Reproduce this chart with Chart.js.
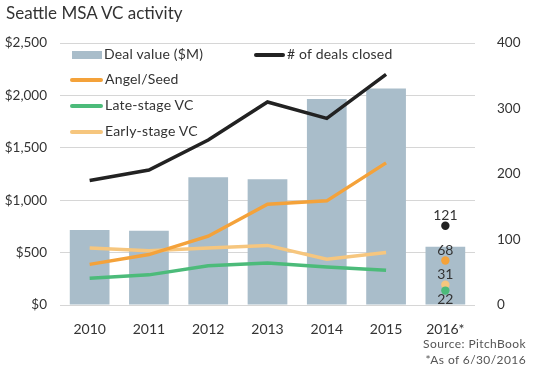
<!DOCTYPE html>
<html>
<head>
<meta charset="utf-8">
<script src="https://cdn.jsdelivr.net/npm/chart.js@4/dist/chart.umd.min.js"></script>
<style>
  body { margin: 0; background: #fff; }
  #wrap { position: relative; width: 542px; height: 372px; font-family: Lato, "Open Sans", sans-serif; color: #333; }
  #title { position: absolute; left: 6px; top: 2px; font-size: 17px; color: #333; }
  .leg { position: absolute; font-size: 14px; color: #333; line-height: 16px; white-space: nowrap; letter-spacing: 0.2px; }
  .leg i { display: inline-block; vertical-align: middle; margin-right: 2px; }
  .foot { position: absolute; right: 16px; font-size: 12px; color: #555; text-align: right; letter-spacing: 0.4px; }
</style>
</head>
<body>
<div id="wrap">
  <canvas id="myChart" width="542" height="372"></canvas>
  <div id="title">Seattle MSA VC activity</div>
  <div class="leg" style="left:72px;top:46px"><i style="width:30px;height:8px;background:#a9bdca"></i>Deal value ($M)</div>
  <div class="leg" style="left:254px;top:46px"><i style="width:31px;height:4px;border-radius:2px;background:#222"></i># of deals closed</div>
  <div class="leg" style="left:70px;top:71px"><i style="width:33px;height:4px;border-radius:2px;background:#f4a23a"></i>Angel/Seed</div>
  <div class="leg" style="left:70px;top:97px"><i style="width:33px;height:4px;border-radius:2px;background:#4cbb7a"></i>Late-stage VC</div>
  <div class="leg" style="left:70px;top:123px"><i style="width:33px;height:4px;border-radius:2px;background:#f6c67e"></i>Early-stage VC</div>
  <div class="foot" style="top:336px">Source: PitchBook</div>
  <div class="foot" style="top:352px">*As of 6/30/2016</div>
</div>
<script>
const years = ['2010', '2011', '2012', '2013', '2014', '2015', '2016*'];
const dealValue = [715, 709, 1218, 1199, 1966, 2067, 556];
const dealsClosed = [190, 206, 252, 310, 285, 352, 121];
const angelSeed = [62, 77, 105, 154, 159, 217, 68];
const lateStage = [41, 46, 60, 64, 58, 53, 22];
const earlyStage = [87, 83, 87, 91, 70, 80, 31];

const lastIdx = years.length - 1;

// line up to 2015, only a dot for 2016
function lineSet(label, data, color) {
    return {
        type: 'line',
        label: label,
        data: data,
        yAxisID: 'y1',
        borderColor: color,
        backgroundColor: color,
        borderWidth: 3.5,
        tension: 0,
        pointRadius: data.map((v, i) => i === lastIdx ? 4.2 : 0),
        pointBorderWidth: 0,
        pointHoverRadius: 0,
        segment: {
            borderColor: ctx => ctx.p1DataIndex === lastIdx ? 'transparent' : color
        }
    };
}

const lastLabels = {
    id: 'lastLabels',
    afterDatasetsDraw(chart) {
        const ctx = chart.ctx;
        ctx.save();
        ctx.font = '14px Lato, "Open Sans", sans-serif';
        ctx.fillStyle = '#333';
        ctx.textAlign = 'center';
        ctx.textBaseline = 'middle';
        chart.data.datasets.forEach((ds, i) => {
            if (ds.type !== 'line') return;
            const pt = chart.getDatasetMeta(i).data[lastIdx];
            const below = ds.label === 'Late-stage VC';
            ctx.fillText(ds.data[lastIdx], pt.x, below ? pt.y + 9 : pt.y - 10);
        });
        ctx.restore();
    }
};

const ctx = document.getElementById('myChart').getContext('2d');
new Chart(ctx, {
    data: {
        labels: years,
        datasets: [
            lineSet('# of deals closed', dealsClosed, '#222'),
            lineSet('Angel/Seed', angelSeed, '#f4a23a'),
            lineSet('Late-stage VC', lateStage, '#4cbb7a'),
            lineSet('Early-stage VC', earlyStage, '#f6c67e'),
            {
                type: 'bar',
                label: 'Deal value ($M)',
                data: dealValue,
                yAxisID: 'y',
                backgroundColor: '#a9bdca',
                barPercentage: 0.67,
                categoryPercentage: 1
            }
        ]
    },
    options: {
        responsive: false,
        animation: false,
        layout: { padding: { top: 43, left: 0, right: 0, bottom: 0 } },
        plugins: { legend: { display: false }, tooltip: { enabled: false } },
        scales: {
            x: {
                grid: { display: false },
                border: { display: false },
                ticks: { color: '#333', padding: 8, font: { family: 'Lato', size: 14 } },
                afterFit: s => { s.height = 67; }
            },
            y: {
                position: 'left',
                min: 0, max: 2500,
                ticks: {
                    stepSize: 500, color: '#333', padding: 13,
                    font: { family: 'Lato', size: 13.5 },
                    callback: v => '$' + v.toLocaleString('en-US')
                },
                grid: { color: '#d6d6d6', drawTicks: false },
                border: { display: false },
                afterFit: s => { s.width = 60; }
            },
            y1: {
                position: 'right',
                min: 0, max: 400,
                ticks: { stepSize: 100, color: '#333', padding: 14, font: { family: 'Lato', size: 13.5 } },
                grid: { display: false },
                border: { display: false },
                afterFit: s => { s.width = 67; }
            }
        }
    },
    plugins: [lastLabels]
});
</script>
</body>
</html>
